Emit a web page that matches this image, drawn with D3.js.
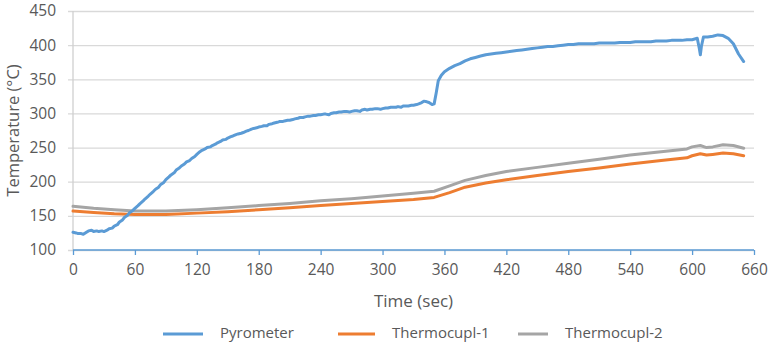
<!DOCTYPE html>
<html><head><meta charset="utf-8">
<script src="https://cdn.jsdelivr.net/npm/d3@7"></script>
<style>body{margin:0;background:#fff}svg{display:block}text{font-family:"Open Sans",sans-serif;fill:#595959}</style>
</head><body><svg id="c" width="770" height="346"></svg>
<script>
const seriesNames = ["Pyrometer", "Thermocupl-1", "Thermocupl-2"];
const xTicks = [0,60,120,180,240,300,360,420,480,540,600,660];
const yTicks = [100,150,200,250,300,350,400,450];
const pyroTime = [0,3,5,8,10,13,15,18,20,23,25,28,30,33,35,38,40,43,45,48,50,53,55,58,60,63,65,68,70,73,75,78,80,83,85,88,90,93,95,98,100,103,105,108,110,113,115,118,120,123,125,128,130,133,135,138,140,143,145,148,150,153,155,158,160,163,165,168,170,173,175,178,180,183,185,188,190,193,195,198,200,203,205,208,210,213,215,218,220,223,225,228,230,233,235,238,240,243,245,248,250,253,255,258,260,263,265,268,270,273,275,278,280,283,285,288,290,293,295,298,300,303,305,308,310,313,315,318,320,323,325,328,330,333,335,338,340,343,345,348,350,352,354,357,360,365,370,375,380,385,390,395,400,405,410,415,420,425,430,435,440,445,450,455,460,465,470,475,480,485,490,495,500,505,510,515,520,525,530,535,540,545,550,555,560,565,570,575,580,585,590,595,600,605,607,608,609,611,615,620,625,630,635,640,645,650];
const pyroTemp = [126,125,124,124,123,126,128,129,127,128,127,128,127,129,131,132,135,137,141,144,148,151,155,158,161,165,168,172,175,179,182,186,189,192,196,199,203,207,210,213,217,220,223,226,229,231,234,237,240,244,246,248,250,251,253,255,257,259,261,262,264,266,267,269,270,271,272,274,275,277,278,279,280,281,282,282,284,285,286,287,288,288,289,290,290,291,292,293,294,294,295,296,296,297,297,298,298,299,299,298,300,301,301,302,302,303,303,302,303,304,304,303,305,306,305,306,306,307,307,306,307,308,308,309,309,309,310,309,311,311,311,312,312,313,314,316,318,317,316,313,314,330,348,356,361,366,370,373,377,380,382,384,386,387,388,389,390,391,392,393,394,395,396,397,398,398,399,400,401,401,402,402,402,402,403,403,403,403,404,404,404,405,405,405,405,406,406,406,407,407,407,408,408,410,395,386,398,412,412,413,415,414,410,402,387,376];
const tcTime = [0,20,40,60,90,120,150,180,210,240,270,300,330,350,365,380,400,420,450,480,510,540,570,595,600,608,614,620,630,640,650];
const tc1Temp = [157,155,153,152,152,154,156,159,162,165,168,171,174,177,184,192,198,203,209,215,220,226,231,235,238,241,239,240,242,241,238];
const tc2Temp = [164,161,159,157,157,159,162,165,168,172,175,179,183,186,194,202,209,215,221,227,233,239,244,248,251,253,250,251,254,253,249];
const colors = ["#5B9BD5","#ED7D31","#A5A5A5"];

const svg = d3.select("#c");
const m = {l:73, r:754, t:11, b:250};
const x = d3.scaleLinear().domain([0,660]).range([m.l, m.r]);
const y = d3.scaleLinear().domain([100,450]).range([m.b, m.t]);

svg.append("g").attr("transform",`translate(${m.l},0)`)
  .call(d3.axisLeft(y).tickValues(yTicks).tickSize(-(m.r-m.l)).tickFormat(""))
  .call(g=>g.select(".domain").remove())
  .call(g=>g.selectAll("line").attr("stroke","#D9D9D9").attr("stroke-width",1.3).attr("x2", m.r-m.l).attr("x1",-5));
svg.append("line").attr("x1",m.l).attr("x2",m.l).attr("y1",m.t).attr("y2",m.b).attr("stroke","#D0D0D0").attr("stroke-width",1.3);
svg.append("g").attr("transform",`translate(${m.l},0)`)
  .call(d3.axisLeft(y).tickValues(yTicks).tickSize(0).tickPadding(17))
  .call(g=>g.select(".domain").remove())
  .call(g=>g.selectAll("text").style("font-size","15.5px").attr("fill","#595959"));
svg.append("g").attr("transform",`translate(0,${m.b})`)
  .call(d3.axisBottom(x).tickValues(xTicks).tickSize(5).tickPadding(9))
  .call(g=>g.select(".domain").attr("stroke","#5B9BD5").attr("stroke-width",1.5).attr("d",`M${m.l},0H${m.r}`))
  .call(g=>g.selectAll("line").attr("stroke","#5B9BD5").attr("stroke-width",1.3))
  .call(g=>g.selectAll("text").style("font-size","15.5px").attr("fill","#595959"));

const line = d3.line().x(d=>x(d[0])).y(d=>y(d[1]));
const tc2 = tcTime.map((t,i)=>[t,tc2Temp[i]]);
const tc1 = tcTime.map((t,i)=>[t,tc1Temp[i]]);
const pyro = pyroTime.map((t,i)=>[t,pyroTemp[i]]);
svg.append("path").datum(tc2).attr("d",line).attr("fill","none").attr("stroke",colors[2]).attr("stroke-width",3).attr("stroke-linejoin","round").attr("stroke-linecap","round");
svg.append("path").datum(tc1).attr("d",line).attr("fill","none").attr("stroke",colors[1]).attr("stroke-width",3).attr("stroke-linejoin","round").attr("stroke-linecap","round");
svg.append("path").datum(pyro).attr("d",line).attr("fill","none").attr("stroke",colors[0]).attr("stroke-width",3).attr("stroke-linejoin","round").attr("stroke-linecap","round");

svg.append("text").attr("x",(m.l+m.r)/2).attr("y",302).attr("text-anchor","middle").attr("dominant-baseline","middle").style("font-size","17px").text("Time (sec)");
svg.append("text").attr("transform",`translate(15,${(m.t+m.b)/2}) rotate(-90)`).attr("text-anchor","middle").attr("dominant-baseline","middle").style("font-size","16.5px").text("Temperature (°C)");

const legX = [163, 338, 518];
const legW = [40, 37, 30];
const lg = svg.append("g");
seriesNames.forEach((n,i)=>{
  lg.append("line").attr("x1",legX[i]).attr("x2",legX[i]+legW[i]).attr("y1",334).attr("y2",334).attr("stroke",colors[i]).attr("stroke-width",3);
  lg.append("text").attr("x",legX[i]+legW[i]+17).attr("y",334).attr("dominant-baseline","middle").style("font-size","15px").text(n);
});
</script></body></html>
